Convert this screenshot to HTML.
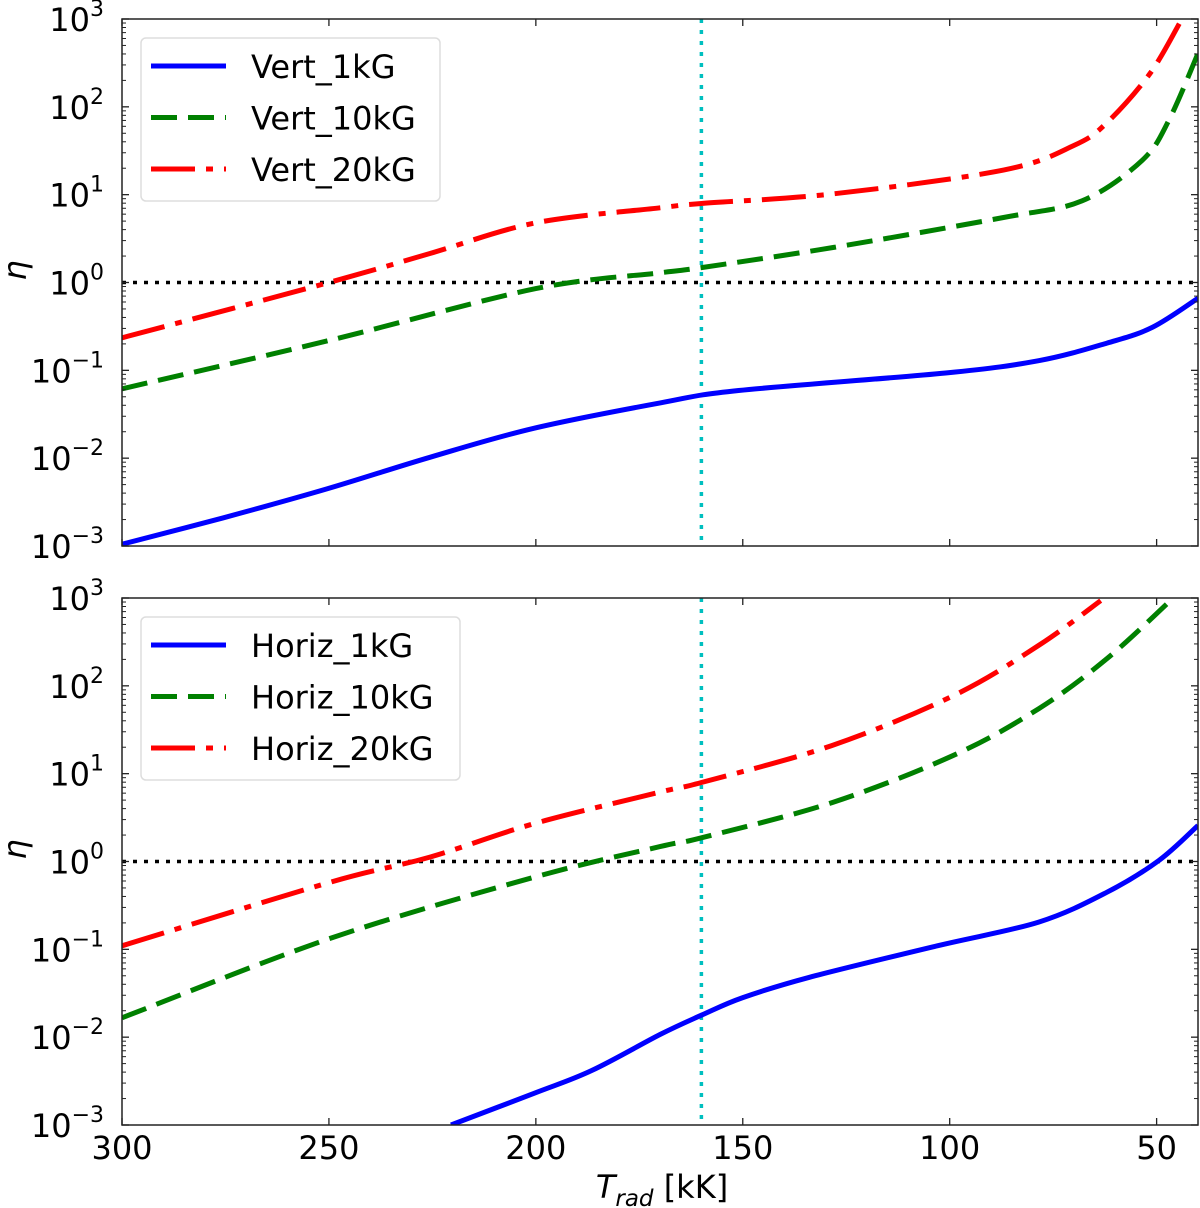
<!DOCTYPE html>
<html><head><meta charset="utf-8">
<style>
html,body{margin:0;padding:0;background:#fff;}
svg{display:block;font-family:"DejaVu Sans","Liberation Sans",sans-serif;}
</style></head>
<body>
<svg id="chart" width="1200" height="1208" viewBox="0 0 1200 1208" xmlns="http://www.w3.org/2000/svg"></svg>
<script>
// ---- data ----
const xTicks = [300, 250, 200, 150, 100, 50];
const yTickExps = [-3, -2, -1, 0, 1, 2, 3];
const cyanT = 160;
const vert1T = [300, 275.6, 250.5, 225.6, 200.5, 169.8, 151, 101, 78.5, 62, 51, 40];
const vert1V = [-2.98, -2.68, -2.35, -1.99, -1.66, -1.37, -1.23, -1.03, -0.89, -0.69, -0.51, -0.18];
const vert10T = [300, 250, 200, 170, 160, 128, 87, 68, 53.5, 47, 40];
const vert10V = [-1.21, -0.66, -0.07, 0.11, 0.17, 0.40, 0.74, 0.93, 1.39, 1.85, 2.61];
const vert20T = [300, 250, 225.6, 200, 170, 160, 128, 87, 70, 62, 51.6, 44];
const vert20V = [-0.63, 0.0, 0.33, 0.68, 0.85, 0.90, 1.01, 1.28, 1.56, 1.82, 2.38, 2.99];
const hor1T = [220.5, 200.5, 186.5, 170, 160, 150, 134, 103, 78.5, 62, 49.5, 40];
const hor1V = [-3.0, -2.64, -2.38, -1.97, -1.75, -1.55, -1.32, -0.96, -0.69, -0.35, 0.01, 0.41];
const hor10T = [300, 250, 200.5, 170, 160, 128.5, 99, 78.5, 62, 46];
const hor10V = [-1.78, -0.88, -0.18, 0.17, 0.27, 0.67, 1.21, 1.74, 2.31, 3.0];
const hor20T = [300, 250, 225.6, 200.5, 170, 160, 128.5, 99, 78.5, 63.5];
const hor20V = [-0.96, -0.24, 0.05, 0.43, 0.79, 0.90, 1.32, 1.89, 2.46, 2.97];

const NS = "http://www.w3.org/2000/svg";
const svg = document.getElementById('chart');
const L = 122, R = 1198;
const xScale = t => L + (300 - t) * (R - L) / 260;
function mk(tag, attrs, parent) {
  const e = document.createElementNS(NS, tag);
  for (const k in attrs) e.setAttribute(k, attrs[k]);
  (parent || svg).appendChild(e);
  return e;
}
function smoothPath(P) {
  let d = 'M' + P[0][0].toFixed(1) + ',' + P[0][1].toFixed(1);
  for (let i = 0; i < P.length - 1; i++) {
    const p0 = P[Math.max(0, i - 1)], p1 = P[i], p2 = P[i + 1], p3 = P[Math.min(P.length - 1, i + 2)];
    const c1x = p1[0] + (p2[0] - p0[0]) / 6, c1y = p1[1] + (p2[1] - p0[1]) / 6;
    const c2x = p2[0] - (p3[0] - p1[0]) / 6, c2y = p2[1] - (p3[1] - p1[1]) / 6;
    d += ' C' + c1x.toFixed(1) + ',' + c1y.toFixed(1) + ' ' + c2x.toFixed(1) + ',' + c2y.toFixed(1) + ' ' + p2[0].toFixed(1) + ',' + p2[1].toFixed(1);
  }
  return d;
}
function panel(top, bottom, names, series, legendW, pname) {
  const g = mk('g', {});
  
  
  const yScale = v => bottom - (v + 3) * (bottom - top) / 6;
  const clipId = 'clip-' + pname;
  const cp = mk('clipPath', {id: clipId}, g);
  mk('rect', {x: L, y: top, width: R - L, height: bottom - top}, cp);
  const hl = mk('line', {x1: L, x2: R, y1: yScale(0), y2: yScale(0), stroke: '#000', 'stroke-width': 3.5, 'stroke-dasharray': '4 7'}, g);
  
  
  const vl = mk('line', {x1: xScale(cyanT), x2: xScale(cyanT), y1: top, y2: bottom, stroke: '#00bfbf', 'stroke-width': 3.5, 'stroke-dasharray': '4 7'}, g);
  
  
  const styles = [
    {c: '#0000ff', d: ''},
    {c: '#008000', d: '26 11'},
    {c: '#ff0000', d: '44 11 7 11'}
  ];
  series.forEach((s, i) => {
    const P = s[0].map((t, j) => [xScale(t), yScale(s[1][j])]);
    const p = mk('path', {d: smoothPath(P), fill: 'none', stroke: styles[i].c, 'stroke-width': 5, 'stroke-dasharray': styles[i].d, 'clip-path': 'url(#' + clipId + ')', 'stroke-linejoin': 'round'}, g);
    
    
  });
  mk('rect', {x: L, y: top, width: R - L, height: bottom - top, fill: 'none', stroke: '#222', 'stroke-width': 1.5}, g);
  xTicks.forEach(t => {
    const x = xScale(t);
    mk('line', {x1: x, x2: x, y1: bottom, y2: bottom - 7, stroke: '#222', 'stroke-width': 1.3}, g);
    mk('line', {x1: x, x2: x, y1: top, y2: top + 7, stroke: '#222', 'stroke-width': 1.3}, g);
  });
  yTickExps.forEach(e => {
    const y = yScale(e);
    mk('line', {x1: L, x2: L + 7, y1: y, y2: y, stroke: '#222', 'stroke-width': 1.3}, g);
    mk('line', {x1: R, x2: R - 7, y1: y, y2: y, stroke: '#222', 'stroke-width': 1.3}, g);
    if (e < 3) for (let m = 2; m <= 9; m++) {
      const ym = yScale(e + Math.log10(m));
      mk('line', {x1: L, x2: L + 4, y1: ym, y2: ym, stroke: '#222', 'stroke-width': 1}, g);
      mk('line', {x1: R, x2: R - 4, y1: ym, y2: ym, stroke: '#222', 'stroke-width': 1}, g);
    }
    const tx = mk('text', {x: 104, y: y + 12, 'text-anchor': 'end', 'font-size': 32, fill: '#000'}, g);
    
    
    tx.textContent = '10';
    const sup = mk('tspan', {'font-size': 22, dy: -15}, tx);
    sup.textContent = e < 0 ? '\u2212' + (-e) : String(e);
  });
  const yl = mk('text', {x: 0, y: 0, transform: 'translate(26,' + (yScale(0) - 12) + ') rotate(-90)', 'text-anchor': 'middle', 'font-size': 32, 'font-style': 'italic'}, g);
  
  
  yl.textContent = 'η';
  const lg = mk('g', {}, g);
  
  
  mk('rect', {x: 141, y: top + 19, width: legendW, height: 163, rx: 5, fill: '#fff', stroke: '#ddd', 'stroke-width': 1.5}, lg);
  names.forEach((n, i) => {
    const yy = top + 47 + i * 51.5;
    const le = mk('g', {}, lg);
    
    
    mk('line', {x1: 151, x2: 226, y1: yy, y2: yy, stroke: styles[i].c, 'stroke-width': 5, 'stroke-dasharray': styles[i].d}, le);
    const t = mk('text', {x: 251, y: yy + 12, 'font-size': 32}, le);
    t.textContent = n;
  });
}
panel(19, 546, ['Vert_1kG', 'Vert_10kG', 'Vert_20kG'],
  [[vert1T, vert1V], [vert10T, vert10V], [vert20T, vert20V]], 299, 'top-panel-vertical');
panel(598, 1125, ['Horiz_1kG', 'Horiz_10kG', 'Horiz_20kG'],
  [[hor1T, hor1V], [hor10T, hor10V], [hor20T, hor20V]], 319, 'bottom-panel-horizontal');
xTicks.forEach(t => {
  const tx = mk('text', {x: xScale(t), y: 1159, 'text-anchor': 'middle', 'font-size': 32});
  
  
  tx.textContent = String(t);
});
const xl = mk('text', {x: 662, y: 1198, 'text-anchor': 'middle', 'font-size': 32});


const t1 = mk('tspan', {'font-style': 'italic'}, xl); t1.textContent = 'T';
const t2 = mk('tspan', {'font-style': 'italic', 'font-size': 23, dy: 8}, xl); t2.textContent = 'rad';
const t3 = mk('tspan', {dy: -8}, xl); t3.textContent = ' [kK]';
</script>
</body></html>
